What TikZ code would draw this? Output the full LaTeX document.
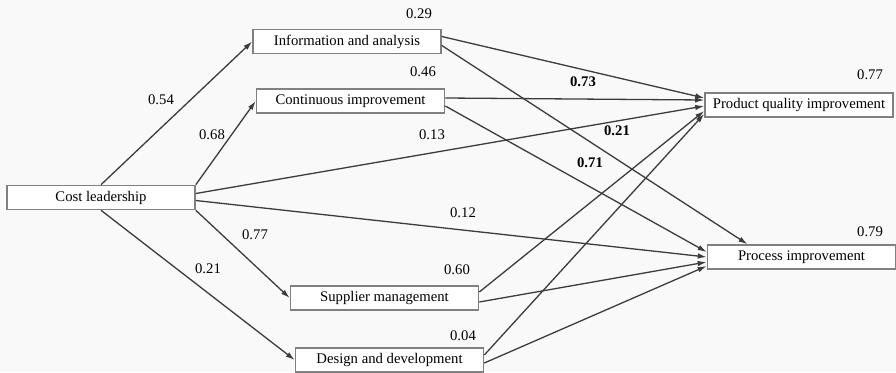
\documentclass[tikz,border=0pt]{standalone}
\usepackage{fontspec}
\setmainfont{Liberation Serif}
\usetikzlibrary{arrows.meta}
\definecolor{bordgray}{RGB}{128,128,128}
\definecolor{edgegray}{RGB}{60,60,60}
\definecolor{bggray}{RGB}{249,249,249}
\tikzset{
  >={Latex[length=9pt,width=5.5pt]},
  every node/.style={font=\fontsize{14.7}{16}\selectfont},
  box/.style={draw=bordgray,line width=1.6pt,fill=white,minimum width=188pt,minimum height=24pt,inner sep=1pt},
  path/.style={->,draw=edgegray,line width=1.3pt},
  coef/.style={inner sep=1pt},
  bcoef/.style={coef,font=\fontsize{14.7}{16}\selectfont\bfseries},
}
\begin{document}
\begin{tikzpicture}[x=1pt,y=1pt]
  \fill[bggray] (0,0) rectangle (896,-372);
  \useasboundingbox (0,0) rectangle (896,-372);

  % ---------------- constructs
  \node[box] (cost) at (101,-197.5) {Cost leadership};
  \node[box] (info) at (347,-41.5)  {Information and analysis};
  \node[box] (cont) at (350.5,-101) {Continuous improvement};
  \node[box] (supp) at (384.5,-298) {Supplier management};
  \node[box] (dsgn) at (389.5,-360) {Design and development};
  \node[box] (pqi)  at (799,-105)   {Product quality improvement};
  \node[box] (proc) at (801.5,-257) {Process improvement};

  % ---------------- cost leadership paths
  \draw[path] (cost.north) -- (info.west);
  \draw[path] (cost.north east) -- (cont.west);
  \draw[path] ([yshift=4pt]cost.east) -- ([yshift=-1pt]pqi.west);
  \draw[path] ([yshift=-3pt]cost.east) -- (proc.west);
  \draw[path] (cost.south east) -- (supp.west);
  \draw[path] (cost.south) -- (dsgn.west);

  % ---------------- mediators -> outcomes
  \draw[path] ([yshift=5pt]info.east) -- ([yshift=7pt]pqi.west);
  \draw[path] ([yshift=-4pt]info.east) -- ([xshift=-54pt]proc.north);
  \draw[path] ([yshift=3pt]cont.east) -- ([yshift=5pt]pqi.west);
  \draw[path] ([yshift=-5pt]cont.east) -- ([yshift=5pt]proc.west);
  \draw[path] ([yshift=6pt]supp.east) -- ([yshift=-6pt]pqi.west);
  \draw[path] ([yshift=-4pt]supp.east) -- ([yshift=-5pt]proc.west);
  \draw[path] ([yshift=5pt]dsgn.east) -- ([yshift=-9pt]pqi.west);
  \draw[path] ([yshift=-3pt]dsgn.east) -- ([yshift=-9pt]proc.west);

  % ---------------- coefficients
  \node[coef] (c29) at (419,-14)  {0.29};
  \node[coef] (c46) at (423,-72)  {0.46};
  \node[coef] (c54) at (161,-100) {0.54};
  \node[coef] (c68) at (212,-135) {0.68};
  \node[coef] (c13) at (432,-135) {0.13};
  \node[bcoef] (c73) at (583,-82) {0.73};
  \node[bcoef] (c21b) at (617,-131) {0.21};
  \node[bcoef] (c71) at (590,-163) {0.71};
  \node[coef] (r77) at (870,-75)  {0.77};
  \node[coef] (c77) at (255,-235) {0.77};
  \node[coef] (c21) at (208,-269) {0.21};
  \node[coef] (c12) at (463,-213) {0.12};
  \node[coef] (r79) at (870,-232) {0.79};
  \node[coef] (c60) at (457,-270) {0.60};
  \node[coef] (c04) at (463,-336) {0.04};
\end{tikzpicture}
\end{document}
